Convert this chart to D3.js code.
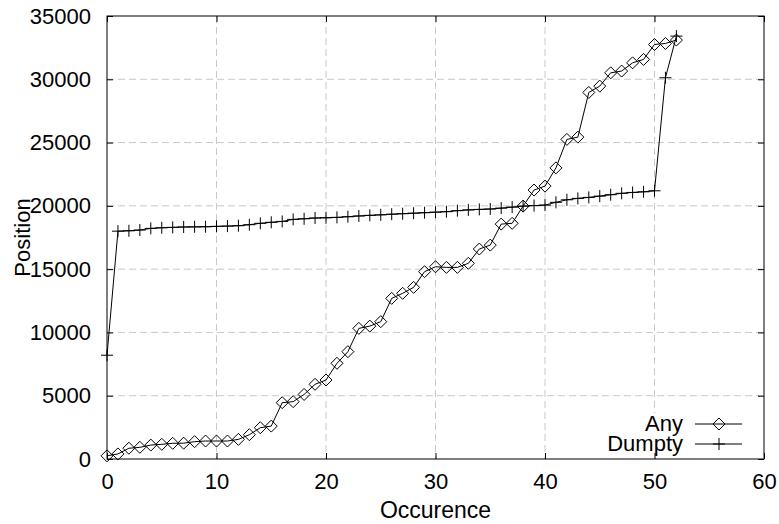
<!DOCTYPE html>
<meta charset="utf-8">
<html>
<head>
<style>
  body { margin: 0; background: #fff; }
  svg text { font-family: "Liberation Sans", Arial, sans-serif; fill: #000; }
</style>
<script src="https://d3js.org/d3.v7.min.js"></script>
</head>
<body>
<svg width="779" height="524"></svg>
<script>
// occurrence index is just 0..52 for both series
var occurrences = d3.range(0, 53);

var anyPos = [250, 400, 850, 920, 1100, 1160, 1240, 1250, 1370, 1420,
  1420, 1420, 1550, 1920, 2470, 2600, 4450, 4530, 5100, 5900,
  6240, 7560, 8480, 10320, 10500, 10850, 12690, 13090, 13560, 14800,
  15190, 15140, 15140, 15460, 16590, 16900, 18560, 18620, 19980, 21250,
  21560, 23000, 25250, 25430, 28960, 29460, 30510, 30650, 31300, 31570,
  32750, 32830, 33100];

var dumptyPos = [8200, 18000, 18030, 18090, 18220, 18270, 18300, 18330, 18340, 18350,
  18380, 18400, 18430, 18510, 18620, 18700, 18770, 18930, 18980, 19040,
  19060, 19090, 19140, 19200, 19250, 19290, 19340, 19380, 19420, 19460,
  19500, 19540, 19620, 19680, 19720, 19750, 19820, 19900, 19980, 20020,
  20060, 20280, 20480, 20590, 20670, 20770, 20880, 20990, 21060, 21110,
  21190, 30120, 33410];

var xTicks = [0, 10, 20, 30, 40, 50, 60];
var yTicks = [0, 5000, 10000, 15000, 20000, 25000, 30000, 35000];
var seriesNames = ["Any", "Dumpty"];

var svg = d3.select("svg");
var pl = 107, pr = 764, pt = 16, pb = 459;
var fs = 22;

var x = d3.scaleLinear().domain([0, 60]).range([pl, pr]);
var y = d3.scaleLinear().domain([0, 35000]).range([pb, pt]);

// grid
var grid = svg.append("g").attr("stroke", "#c8c8c8").attr("stroke-dasharray", "7,4");
grid.selectAll(".gx").data(xTicks.slice(1, -1)).enter().append("line")
  .attr("x1", d => x(d)).attr("x2", d => x(d))
  .attr("y1", pt).attr("y2", pb);
grid.selectAll(".gy").data(yTicks.slice(1, -1)).enter().append("line")
  .attr("x1", pl).attr("x2", pr)
  .attr("y1", d => y(d)).attr("y2", d => y(d));

// opaque key area
svg.append("rect").attr("x", 636).attr("y", 413).attr("width", pr - 636).attr("height", pb - 413)
  .attr("fill", "#fff");

// axes, ticks on all four sides pointing inwards
var tl = 6;
var fmt = d3.format("d");
svg.append("g").attr("transform", "translate(0," + pb + ")")
  .call(d3.axisBottom(x).tickValues(xTicks).tickFormat(fmt).tickSizeInner(-tl).tickSizeOuter(0).tickPadding(14))
  .call(g => g.select(".domain").remove());
svg.append("g").attr("transform", "translate(0," + pt + ")")
  .call(d3.axisTop(x).tickValues(xTicks).tickSizeInner(-tl).tickSizeOuter(0).tickFormat(""))
  .call(g => g.select(".domain").remove());
svg.append("g").attr("transform", "translate(" + pl + ",0)")
  .call(d3.axisLeft(y).tickValues(yTicks).tickFormat(fmt).tickSizeInner(-tl).tickSizeOuter(0).tickPadding(16))
  .call(g => g.select(".domain").remove());
svg.append("g").attr("transform", "translate(" + pr + ",0)")
  .call(d3.axisRight(y).tickValues(yTicks).tickSizeInner(-tl).tickSizeOuter(0).tickFormat(""))
  .call(g => g.select(".domain").remove());

svg.selectAll(".tick text").attr("font-size", fs).attr("font-family", "Liberation Sans");
svg.selectAll(".tick line").attr("stroke", "#000");

svg.append("rect").attr("x", pl).attr("y", pt).attr("width", pr - pl).attr("height", pb - pt)
  .attr("fill", "none").attr("stroke", "#000");

// axis titles
svg.append("text").attr("x", (pl + pr) / 2).attr("y", 518)
  .attr("text-anchor", "middle").attr("font-size", 23).text("Occurence");
svg.append("text").attr("transform", "translate(30," + ((pt + pb) / 2) + ") rotate(-90)")
  .attr("text-anchor", "middle").attr("font-size", fs).text("Position");

// series
var line = d3.line().x((d, i) => x(occurrences[i])).y(d => y(d));
var diamond = function (cx, cy) {
  var r = 6;
  return "M" + cx + "," + (cy - r) + "L" + (cx + r) + "," + cy + "L" + cx + "," + (cy + r) + "L" + (cx - r) + "," + cy + "Z";
};
var plus = function (cx, cy) {
  var r = 6;
  return "M" + (cx - r) + "," + cy + "H" + (cx + r) + "M" + cx + "," + (cy - r) + "V" + (cy + r);
};

svg.append("path").datum(anyPos).attr("d", line).attr("fill", "none").attr("stroke", "#000");
svg.append("g").selectAll("path").data(anyPos).enter().append("path")
  .attr("d", (d, i) => diamond(x(occurrences[i]), y(d)))
  .attr("fill", "none").attr("stroke", "#000");

svg.append("path").datum(dumptyPos).attr("d", line).attr("fill", "none").attr("stroke", "#000");
svg.append("g").selectAll("path").data(dumptyPos).enter().append("path")
  .attr("d", (d, i) => plus(x(occurrences[i]), y(d)))
  .attr("fill", "none").attr("stroke", "#000");

// legend
var key = svg.append("g");
seriesNames.forEach(function (name, i) {
  var ly = 424 + i * 20;
  key.append("text").attr("x", 683).attr("y", ly + 7).attr("text-anchor", "end")
    .attr("font-size", fs).text(name);
  key.append("line").attr("x1", 695).attr("x2", 742).attr("y1", ly).attr("y2", ly).attr("stroke", "#000");
  key.append("path").attr("d", i === 0 ? diamond(719, ly) : plus(719, ly))
    .attr("fill", "none").attr("stroke", "#000");
});
</script>
</body>
</html>
